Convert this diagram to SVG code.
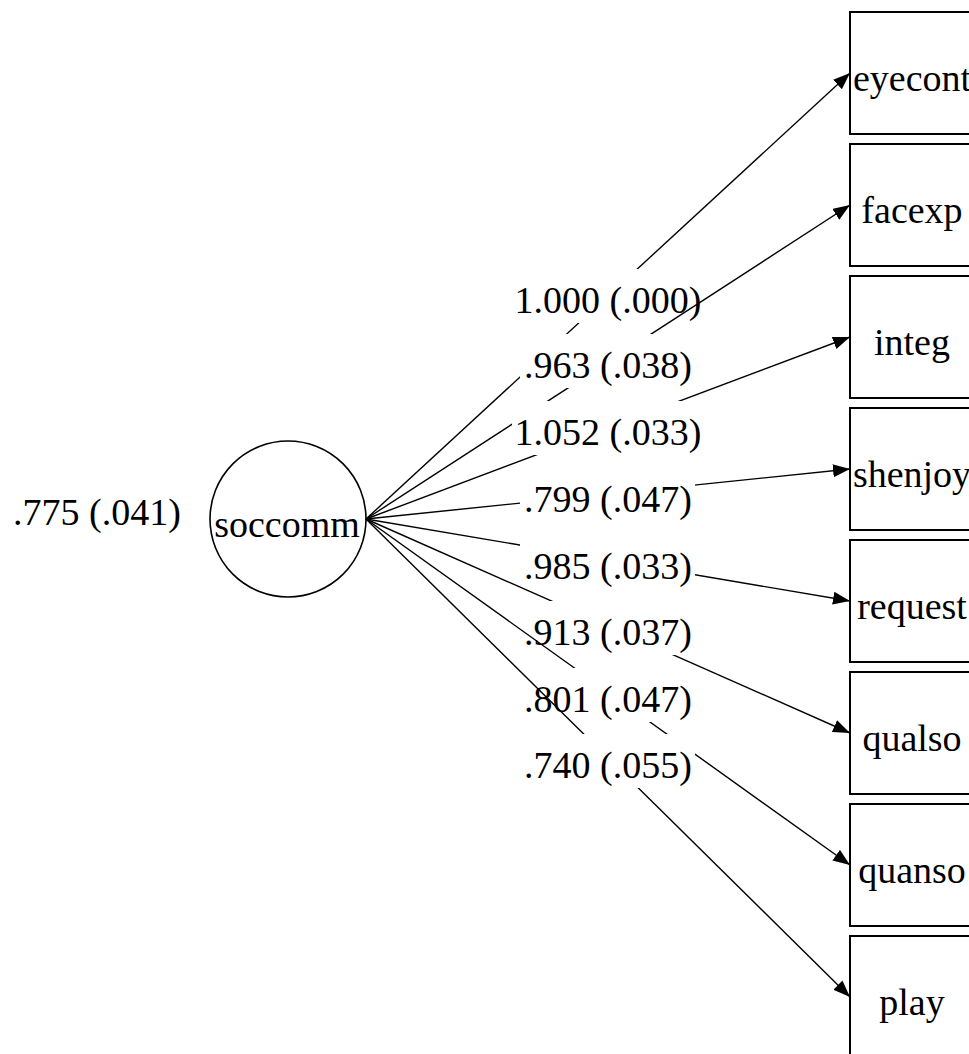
<svg xmlns="http://www.w3.org/2000/svg" width="969" height="1054" viewBox="0 0 969 1054">
<defs>
<marker id="ah" markerUnits="userSpaceOnUse" markerWidth="18" markerHeight="14" refX="17" refY="6.5" orient="auto">
<path d="M0,0 L17,6.5 L0,13 z" fill="#000"/>
</marker>
<style>
text{font-family:"Liberation Serif","Times New Roman",serif;font-size:38px;fill:#000;text-anchor:middle}
.e{stroke:#000;stroke-width:1.4;fill:none;marker-end:url(#ah)}
.bg{fill:#fff}
.box{fill:#fff;stroke:#000;stroke-width:2}
</style>
</defs>
<rect width="969" height="1054" fill="#fff"/>
<g id="soccomm">
<circle cx="288" cy="519" r="78" fill="#fff" stroke="#000" stroke-width="1.6"/>
<text x="287" y="537">soccomm</text>
</g>
<g id="var"><text x="97" y="525">.775 (.041)</text></g>
<g id="connectors">
<line class="e" x1="366" y1="519" x2="850" y2="73"/>
<rect class="bg" x="512" y="269" width="193" height="54"/>
<text x="608" y="313">1.000 (.000)</text>
<line class="e" x1="366" y1="519" x2="850" y2="205"/>
<rect class="bg" x="520" y="334" width="175" height="54"/>
<text x="608" y="378">.963 (.038)</text>
<line class="e" x1="366" y1="519" x2="850" y2="337"/>
<rect class="bg" x="512" y="401" width="193" height="54"/>
<text x="608" y="445">1.052 (.033)</text>
<line class="e" x1="366" y1="519" x2="850" y2="469"/>
<rect class="bg" x="520" y="468" width="175" height="54"/>
<text x="608" y="512">.799 (.047)</text>
<line class="e" x1="366" y1="519" x2="850" y2="601"/>
<rect class="bg" x="520" y="535" width="175" height="54"/>
<text x="608" y="579">.985 (.033)</text>
<line class="e" x1="366" y1="519" x2="850" y2="733"/>
<rect class="bg" x="520" y="601" width="175" height="54"/>
<text x="608" y="645">.913 (.037)</text>
<line class="e" x1="366" y1="519" x2="850" y2="865"/>
<rect class="bg" x="520" y="668" width="175" height="54"/>
<text x="608" y="712">.801 (.047)</text>
<line class="e" x1="366" y1="519" x2="850" y2="997"/>
<rect class="bg" x="520" y="734" width="175" height="54"/>
<text x="608" y="778">.740 (.055)</text>
</g>
<g id="eyecont"><rect class="box" x="850" y="12" width="126" height="122"/><text x="912" y="91">eyecont</text></g>
<g id="facexp"><rect class="box" x="850" y="144" width="126" height="122"/><text x="912" y="223">facexp</text></g>
<g id="integ"><rect class="box" x="850" y="276" width="126" height="122"/><text x="912" y="355">integ</text></g>
<g id="shenjoy"><rect class="box" x="850" y="408" width="126" height="122"/><text x="912" y="487">shenjoy</text></g>
<g id="request"><rect class="box" x="850" y="540" width="126" height="122"/><text x="912" y="619">request</text></g>
<g id="qualso"><rect class="box" x="850" y="672" width="126" height="122"/><text x="912" y="751">qualso</text></g>
<g id="quanso"><rect class="box" x="850" y="804" width="126" height="122"/><text x="912" y="883">quanso</text></g>
<g id="play"><rect class="box" x="850" y="936" width="126" height="122"/><text x="912" y="1015">play</text></g>
</svg>
